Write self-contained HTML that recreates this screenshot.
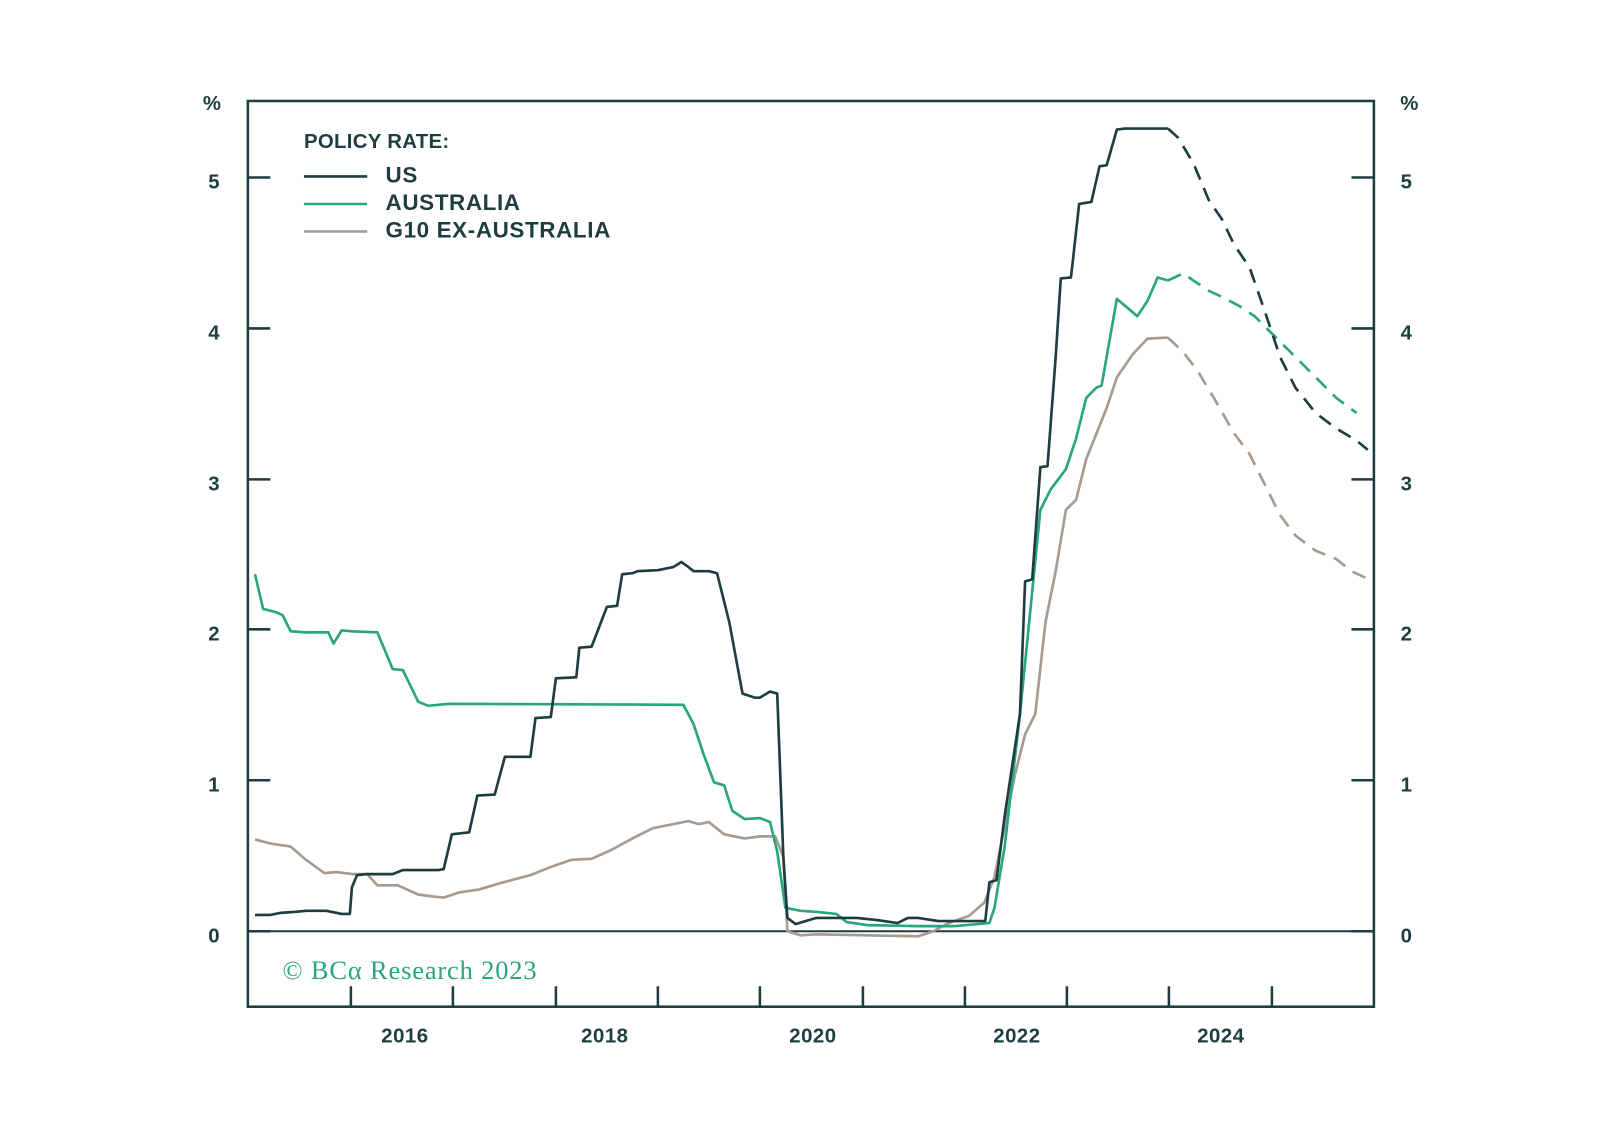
<!DOCTYPE html>
<html><head><meta charset="utf-8"><style>
html,body{margin:0;padding:0;background:#fff;}
svg{display:block;}
text{font-family:"Liberation Sans","DejaVu Sans",sans-serif;font-weight:bold;fill:#1e3d40;}
</style></head><body>
<svg width="1598" height="1144" viewBox="0 0 1566.7 1121.6" xmlns="http://www.w3.org/2000/svg">
<g fill="none" stroke="#1e3d40" stroke-width="2.5">
<rect x="243" y="99" width="1104" height="888"/>
<line x1="243" y1="913" x2="1347" y2="913" stroke-width="2"/>
<path d="M243 174h22M243 322h22M243 470h22M243 617h22M243 765h22M243 913h22M1347 174h-22M1347 322h-22M1347 470h-22M1347 617h-22M1347 765h-22M1347 913h-22"/>
<path d="M344 987v-20M444 987v-20M545 987v-20M645 987v-20M745 987v-20M846 987v-20M946 987v-20M1046 987v-20M1146 987v-20M1247 987v-20"/>
</g>
<g font-size="20" text-anchor="middle" letter-spacing="0.5">
<text x="208" y="108">%</text><text x="1382" y="108">%</text>
<text x="210" y="185">5</text><text x="210" y="333">4</text><text x="210" y="481">3</text><text x="210" y="628">2</text><text x="210" y="776">1</text><text x="210" y="924">0</text>
<text x="1379" y="185">5</text><text x="1379" y="333">4</text><text x="1379" y="481">3</text><text x="1379" y="628">2</text><text x="1379" y="776">1</text><text x="1379" y="924">0</text>
<text x="397" y="1022">2016</text><text x="593" y="1022">2018</text><text x="797" y="1022">2020</text><text x="997" y="1022">2022</text><text x="1197" y="1022">2024</text>
</g>
<text x="298" y="145" font-size="20" letter-spacing="0.3">POLICY RATE:</text>
<g font-size="22" letter-spacing="0.6">
<text x="378" y="179">US</text><text x="378" y="206">AUSTRALIA</text><text x="378" y="233">G10 EX-AUSTRALIA</text>
</g>
<path d="M298 173h62" stroke="#1e3d40" stroke-width="2.5"/>
<path d="M298 200h62" stroke="#2aa57f" stroke-width="2.5"/>
<path d="M298 227h62" stroke="#a89a8f" stroke-width="2.5"/>
<text x="277" y="960" font-size="26" letter-spacing="0.8" style="font-family:'Liberation Serif',serif;font-weight:normal;fill:#2aa57f">© BCα Research 2023</text>
<g fill="none" stroke-width="2.6" stroke-linejoin="round">
<polyline stroke="#a89a8f" points="250,823 265,827 285,830 300,843 318,856 330,855 345,857 360,857 370,868 390,868 410,877 425,879 435,880 450,875 470,872 490,866 505,862 520,858 540,850 560,843 580,842 600,833 620,822 640,812 660,808 675,805 685,808 695,806 710,818 730,822 745,820 760,820 768,840 772,913 785,917 800,916 850,917 900,918 915,913 930,905 950,898 965,885 975,860 985,810 995,760 1005,720 1015,700 1025,610 1035,560 1045,500 1055,490 1065,450 1075,425 1085,400 1095,370 1110,348 1125,332 1145,331"/>
<polyline stroke="#a89a8f" stroke-dasharray="14,9" points="1145,331 1160,345 1175,365 1190,390 1210,425 1225,445 1240,475 1255,505 1270,525 1290,540 1310,548 1325,560 1340,567"/>
<polyline stroke="#2aa57f" points="250,563 258,597 270,600 277,603 285,619 300,620 322,620 327,631 335,618 345,619 370,620 385,656 395,657 410,688 420,692 440,690 670,691 680,710 690,740 700,767 710,770 718,795 730,803 745,802 755,806 762,835 770,890 785,893 800,894 820,896 830,904 850,907 900,908 935,908 970,905 975,890 985,830 1000,700 1010,600 1020,500 1030,480 1045,460 1055,430 1065,390 1075,380 1080,378 1095,293 1115,310 1125,295 1135,272 1145,275"/>
<polyline stroke="#2aa57f" stroke-dasharray="14,9" points="1145,275 1160,268 1170,275 1185,285 1200,292 1215,300 1230,310 1250,330 1270,350 1290,370 1310,390 1330,405"/>
<polyline stroke="#1e3d40" points="250,897 265,897 275,895 290,894 300,893 320,893 335,896 343,896 345,870 350,858 360,857 385,857 395,853 430,853 435,852 443,818 460,816 468,780 485,779 495,742 520,742 525,704 540,703 545,665 565,664 568,635 580,634 595,595 605,594 610,563 620,562 625,560 645,559 660,556 668,551 675,556 680,560 695,560 703,562 715,610 728,680 740,684 745,684 755,678 762,680 768,840 772,900 780,906 790,903 800,900 840,900 860,902 880,905 890,900 900,900 920,903 966,903 970,865 977,863 985,800 1000,700 1005,570 1012,568 1020,458 1027,457 1035,350 1040,273 1050,272 1058,200 1070,198 1078,163 1085,162 1095,127 1103,126 1145,126"/>
<polyline stroke="#1e3d40" stroke-dasharray="14,9" points="1145,126 1155,135 1170,160 1185,196 1198,215 1210,240 1225,262 1240,305 1255,350 1270,380 1290,405 1310,420 1330,432 1341,441"/>
</g>
</svg>
</body></html>
